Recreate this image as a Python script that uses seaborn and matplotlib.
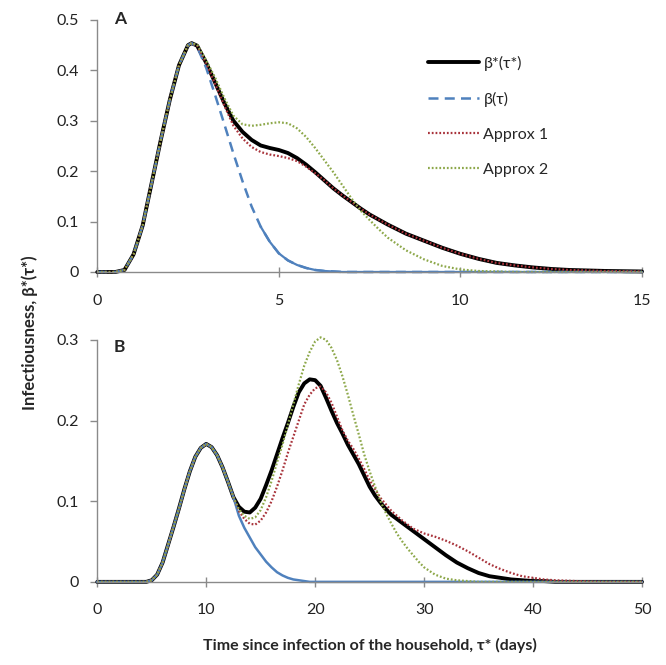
import matplotlib
matplotlib.use("Agg")
import matplotlib.pyplot as plt
import pandas as pd
import seaborn as sns

# panel A: time since infection of household (days)
t_a = [0, 0.5, 0.75, 1.0, 1.25, 1.5, 1.75, 2.0, 2.25, 2.5, 2.6, 2.75, 3.0, 3.25, 3.5,
       3.75, 4.0, 4.25, 4.5, 4.75, 5.0, 5.25, 5.5, 5.75, 6.0, 6.25, 6.5, 6.75, 7.0,
       7.25, 7.5, 7.75, 8.0, 8.5, 9.0, 9.5, 10, 10.5, 11, 11.5, 12, 12.5, 13, 14, 15]
rise_a = [0, 0, 0.004, 0.035, 0.092, 0.177, 0.262, 0.342, 0.41, 0.45, 0.454]
beta_star_a = rise_a + [0.449, 0.415, 0.375, 0.335, 0.300, 0.278, 0.262, 0.251, 0.246,
                        0.242, 0.236, 0.226, 0.213, 0.198, 0.182, 0.166, 0.152, 0.139,
                        0.126, 0.114, 0.104, 0.094, 0.076, 0.062, 0.048, 0.036, 0.026,
                        0.018, 0.013, 0.009, 0.006, 0.004, 0.002, 0.001]
beta_a = rise_a + [0.447, 0.405, 0.350, 0.293, 0.235, 0.180, 0.130, 0.090, 0.060,
                   0.037, 0.023, 0.014, 0.008, 0.004, 0.002, 0.001,
                   0, 0, 0, 0, 0, 0, 0, 0, 0, 0, 0, 0, 0, 0, 0, 0, 0, 0]
approx1_a = rise_a + [0.449, 0.414, 0.372, 0.330, 0.290, 0.265, 0.248, 0.238, 0.233,
                      0.230, 0.226, 0.220, 0.209, 0.196, 0.182, 0.166, 0.152, 0.139,
                      0.126, 0.114, 0.104, 0.094, 0.076, 0.062, 0.048, 0.036, 0.026,
                      0.018, 0.013, 0.009, 0.006, 0.004, 0.002, 0.001]
approx2_a = rise_a + [0.451, 0.420, 0.385, 0.345, 0.310, 0.293, 0.290, 0.292, 0.295,
                      0.297, 0.295, 0.285, 0.268, 0.246, 0.222, 0.198, 0.172, 0.146,
                      0.122, 0.103, 0.085, 0.068, 0.043, 0.025, 0.012, 0.005, 0.002,
                      0.001, 0, 0, 0, 0, 0, 0]

# panel B
t_b = [0, 4, 4.5, 5, 5.5, 6, 6.5, 7, 7.5, 8, 8.5, 9, 9.5, 10, 10.5, 11, 11.5, 12, 12.5,
       13, 13.5, 14, 14.5, 15, 15.5, 16, 16.5, 17, 17.5,
       18, 18.5, 19, 19.5, 20, 20.5, 21, 21.5, 22, 22.5,
       23, 23.5, 24, 24.5, 25, 25.5, 26, 26.5, 27, 27.5,
       28, 28.5, 29, 29.5, 30,
       31, 32, 33, 34, 35, 36, 37, 38, 39, 40,
       41, 42, 44, 46, 50]
rise_b = [0, 0, 0, 0.002, 0.009, 0.024, 0.046, 0.068, 0.091, 0.115, 0.137, 0.155, 0.166,
          0.171, 0.167, 0.157, 0.142, 0.124, 0.105]
beta_star_b = rise_b + [0.093, 0.087, 0.086, 0.092, 0.103, 0.120, 0.138, 0.158, 0.178, 0.197,
                        0.217, 0.235, 0.246, 0.251, 0.250, 0.243, 0.228, 0.212, 0.197, 0.184,
                        0.170, 0.158, 0.146, 0.132, 0.118, 0.107, 0.098, 0.090, 0.083, 0.078,
                        0.073, 0.068, 0.063, 0.058, 0.053,
                        0.043, 0.033, 0.024, 0.017, 0.011, 0.007, 0.005, 0.003, 0.002, 0.001,
                        0.001, 0, 0, 0, 0]
beta_b = rise_b + [0.082, 0.067, 0.055, 0.043, 0.034, 0.025, 0.018, 0.012, 0.008, 0.005,
                   0.003, 0.002, 0.001, 0, 0, 0, 0, 0, 0, 0,
                   0, 0, 0, 0, 0, 0, 0, 0, 0, 0,
                   0, 0, 0, 0, 0,
                   0, 0, 0, 0, 0, 0, 0, 0, 0, 0,
                   0, 0, 0, 0, 0]
approx1_b = rise_b + [0.088, 0.078, 0.072, 0.071, 0.076, 0.086, 0.100, 0.118, 0.138, 0.160,
                      0.180, 0.200, 0.220, 0.232, 0.240, 0.242, 0.235, 0.222, 0.205, 0.188,
                      0.175, 0.165, 0.153, 0.140, 0.126, 0.115, 0.104, 0.096, 0.088, 0.082,
                      0.076, 0.071, 0.066, 0.063, 0.060,
                      0.056, 0.051, 0.045, 0.038, 0.030, 0.022, 0.016, 0.011, 0.007, 0.005,
                      0.003, 0.002, 0.001, 0, 0]
approx2_b = rise_b + [0.090, 0.082, 0.078, 0.080, 0.089, 0.105, 0.125, 0.148, 0.170, 0.195,
                      0.220, 0.245, 0.268, 0.285, 0.298, 0.303, 0.300, 0.290, 0.275, 0.255,
                      0.232, 0.207, 0.183, 0.158, 0.137, 0.118, 0.100, 0.085, 0.072, 0.060,
                      0.050, 0.041, 0.033, 0.025, 0.018,
                      0.009, 0.004, 0.002, 0.001, 0, 0, 0, 0, 0, 0,
                      0, 0, 0, 0, 0]

labels = ["β*(τ*)", "β(τ)", "Approx 1", "Approx 2"]
x_ticks_a = [0, 5, 10, 15]
x_ticks_b = [0, 10, 20, 30, 40, 50]
y_ticks_a = [0, 0.1, 0.2, 0.3, 0.4, 0.5]
y_ticks_b = [0, 0.1, 0.2, 0.3]

sns.set_theme(style="white")
plt.rcParams["font.family"] = ["Lato", "DejaVu Sans"]

BLUE = "#4F81BD"
STYLES = [
    dict(color="black", linewidth=2.8, linestyle="-"),
    dict(color=BLUE, linewidth=1.8, linestyle=(0, (4, 2.5))),
    dict(color="#A8323A", linewidth=1.6, linestyle=(0, (0.8, 0.9))),
    dict(color="#8DA84A", linewidth=1.6, linestyle=(0, (0.8, 0.9))),
]

fig = plt.figure(figsize=(6.66, 6.65), dpi=100)
ax_a = fig.add_axes([0.146, 0.591, 0.818, 0.379])
ax_b = fig.add_axes([0.146, 0.125, 0.818, 0.364])


def draw_panel(ax, t, series, blue_dashed, xlim, ylim, xticks, yticks):
    for i, (values, label) in enumerate(zip(series, labels)):
        df = pd.DataFrame({"t": t, "v": values})
        style = dict(STYLES[i])
        if i == 1 and not blue_dashed:
            style["linestyle"] = "-"
        sns.lineplot(data=df, x="t", y="v", ax=ax, label=label, clip_on=False, **style)
        if i == 1 and blue_dashed:
            # the flat tail of the dashed curve renders as a solid line
            tail = df[(df["v"] < 0.1) & (df["t"] > 3)]
            sns.lineplot(data=tail, x="t", y="v", ax=ax, color=BLUE, linewidth=1.6,
                         clip_on=False, legend=False)
    ax.set_xlim(*xlim)
    ax.set_ylim(*ylim)
    ax.set_xticks(xticks)
    ax.set_yticks(yticks)
    ax.set_yticklabels(["0" if v == 0 else f"{v:.1f}" for v in yticks])
    ax.set_xlabel("")
    ax.set_ylabel("")
    for side in ["top", "right"]:
        ax.spines[side].set_visible(False)
    for side in ["left", "bottom"]:
        ax.spines[side].set_color("#8a8a8a")
        ax.spines[side].set_linewidth(1.0)
    ax.tick_params(axis="y", direction="out", length=5, width=1, color="#8a8a8a",
                   labelsize=11.5, pad=8, labelcolor="#222222", left=True)
    ax.tick_params(axis="x", direction="inout", length=7, width=1, color="#8a8a8a",
                   labelsize=11.5, pad=12, labelcolor="#222222", bottom=True)


draw_panel(ax_a, t_a, [beta_star_a, beta_a, approx1_a, approx2_a], True,
           (0, 15), (0, 0.5), x_ticks_a, y_ticks_a)
draw_panel(ax_b, t_b, [beta_star_b, beta_b, approx1_b, approx2_b], False,
           (0, 50), (0, 0.3), x_ticks_b, y_ticks_b)

handles, legend_labels = ax_a.get_legend_handles_labels()
ax_a.legend(handles[:4], legend_labels[:4], loc="upper left", bbox_to_anchor=(0.58, 0.915),
            frameon=False, fontsize=11.5, labelspacing=1.3, handlelength=3.2,
            handletextpad=0.3)
ax_b.get_legend().remove()

ax_a.text(0.042, 1.005, "A", transform=ax_a.transAxes, fontsize=12.5,
          fontweight="bold", ha="center", va="center")
ax_b.text(0.04, 0.97, "B", transform=ax_b.transAxes, fontsize=12.5,
          fontweight="bold", ha="center", va="center")

fig.text(0.045, 0.5, "Infectiousness, β*(τ*)", rotation=90, fontsize=12,
         fontweight="bold", ha="center", va="center")
fig.text(0.555, 0.03, "Time since infection of the household, τ* (days)",
         fontsize=11.5, fontweight="bold", ha="center", va="center")

fig.savefig("out.png", dpi=100)
